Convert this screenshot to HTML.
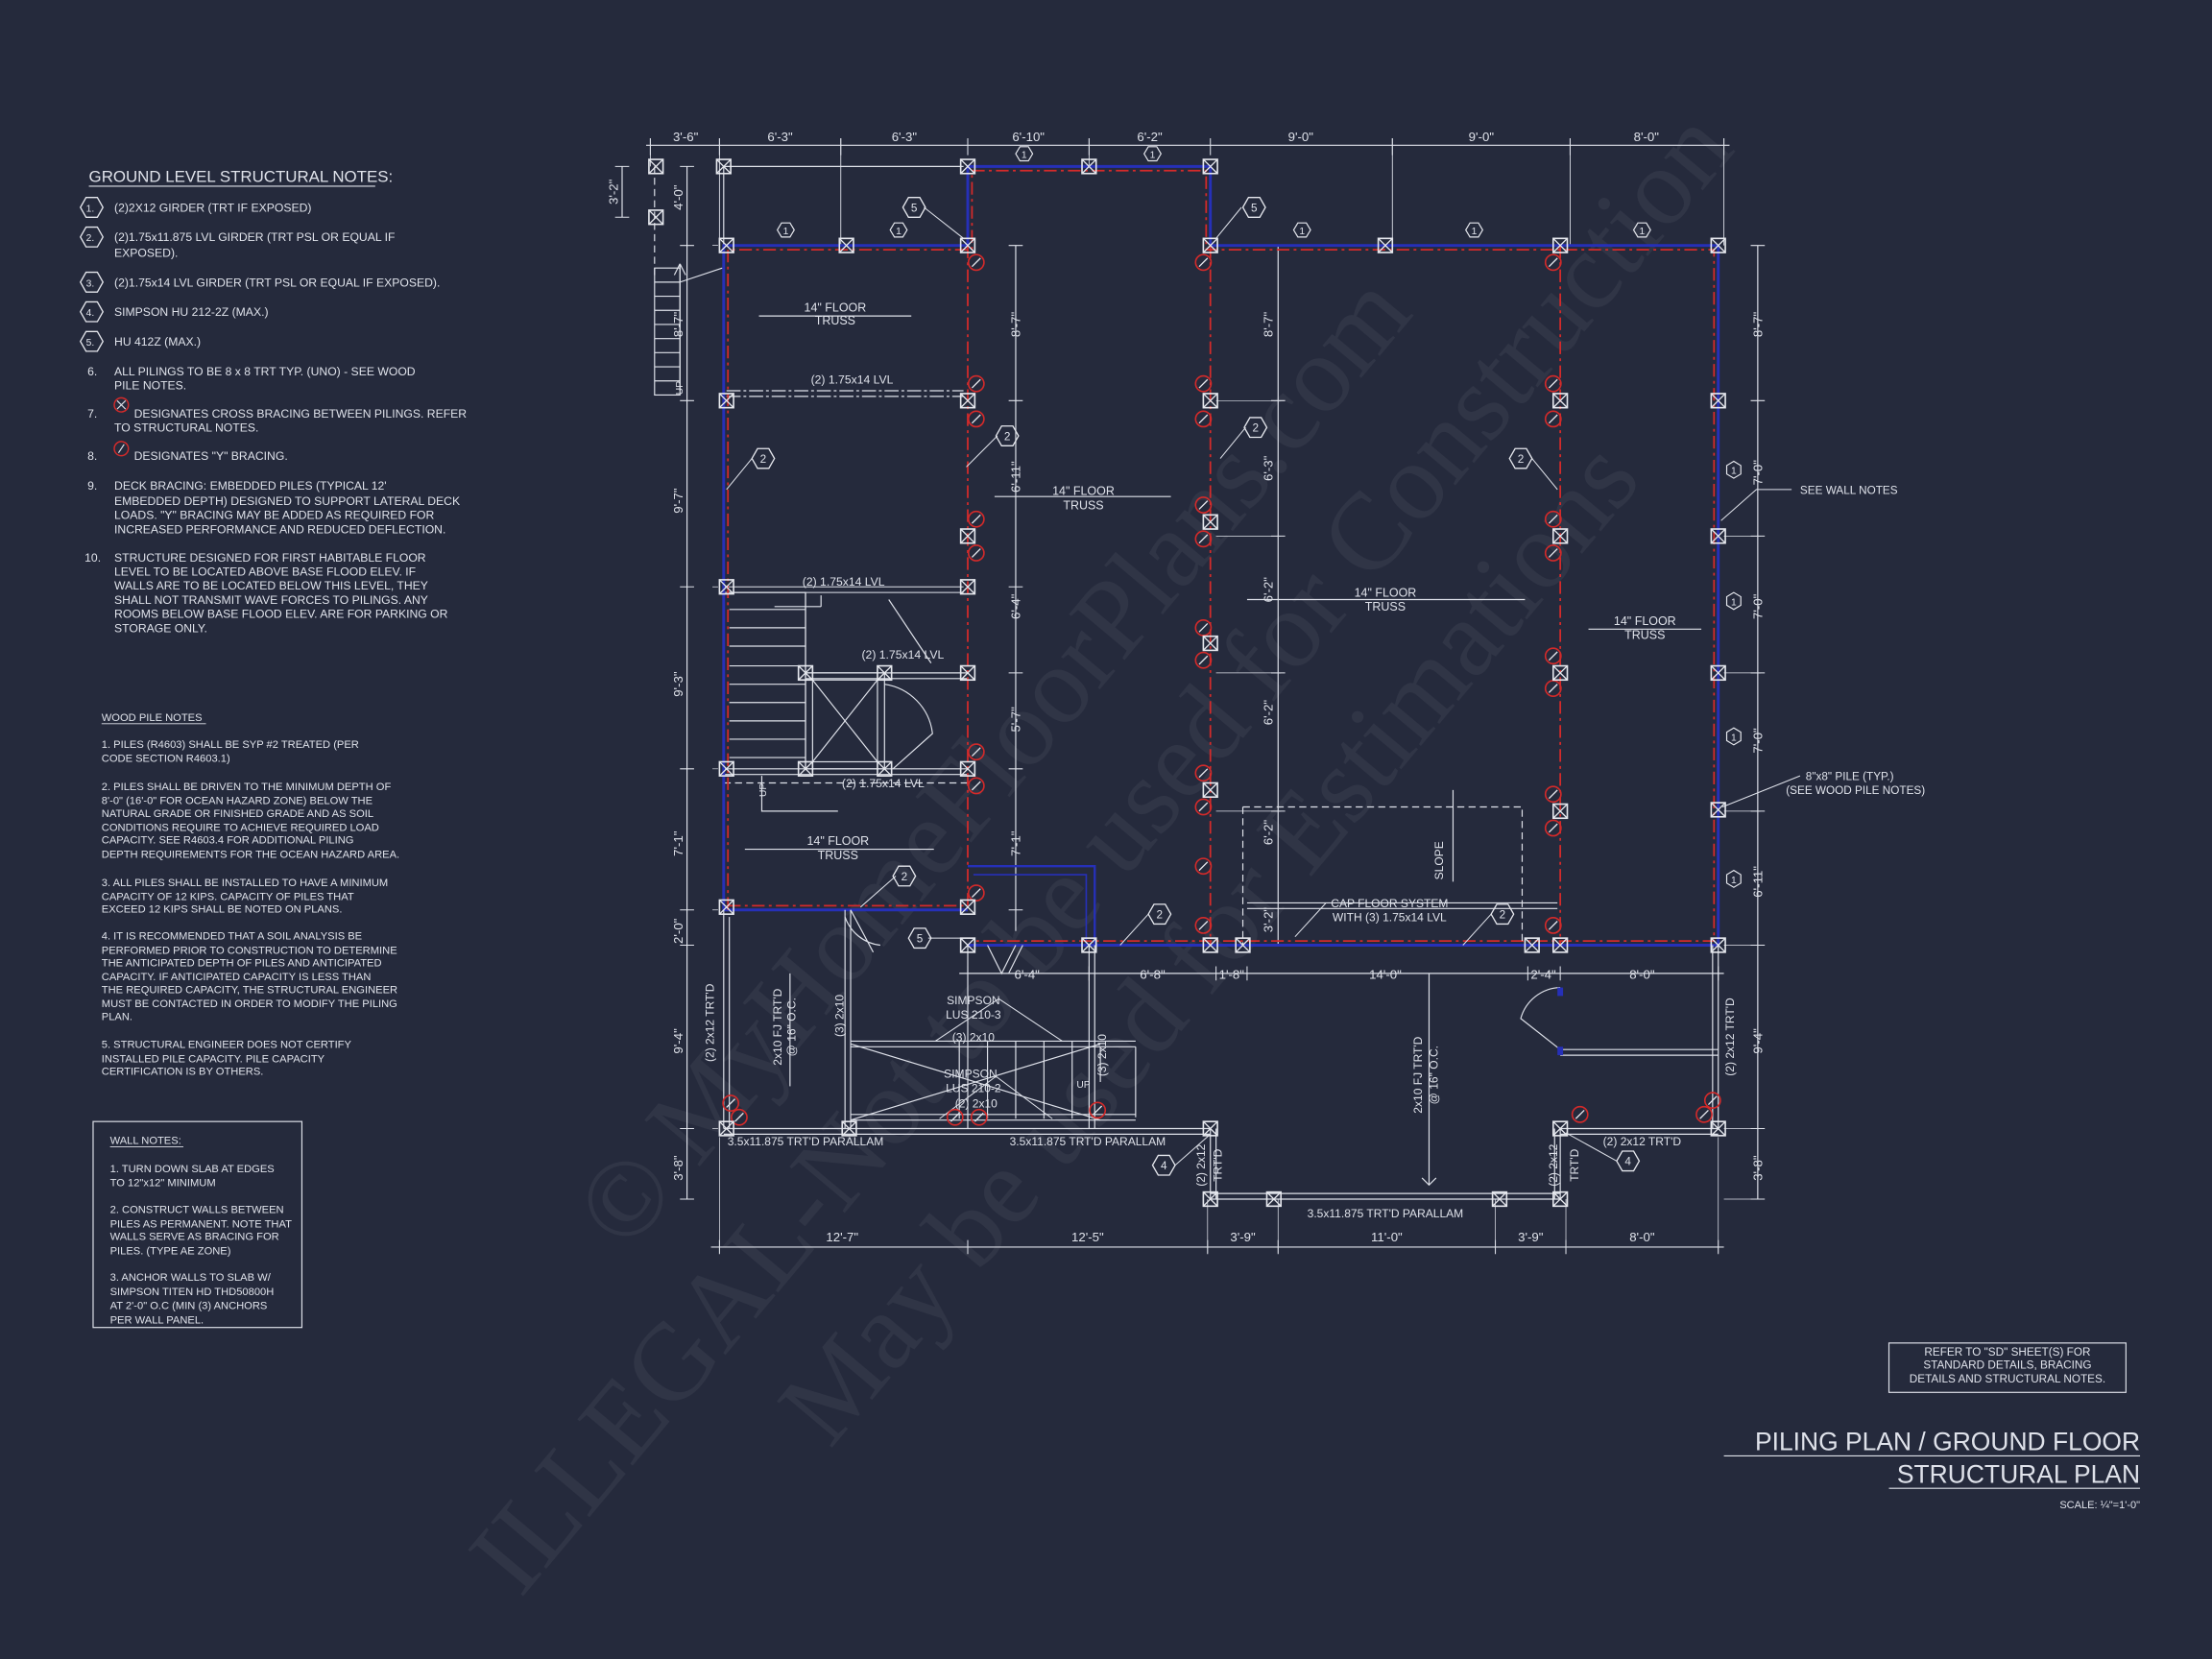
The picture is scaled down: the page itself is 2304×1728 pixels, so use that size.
<!DOCTYPE html>
<html><head><meta charset="utf-8"><style>
html,body{margin:0;padding:0;background:#252a3c;}
svg{display:block}
text{font-family:"Liberation Sans",sans-serif;fill:#dfe2ea;}
</style></head><body>
<svg width="2304" height="1728" viewBox="0 0 1568 1176" xmlns="http://www.w3.org/2000/svg">
<defs>
<g id="p"><rect x="-5" y="-5" width="10" height="10" fill="none" stroke="#e6e8ee" stroke-width="1.1"/><path d="M-5 -5L5 5M5 -5L-5 5" stroke="#e6e8ee" stroke-width="0.9"/></g>
<g id="y"><circle r="5.5" fill="none" stroke="#d42a2a" stroke-width="1.1"/><path d="M-3 3L3 -3" stroke="#e6e8ee" stroke-width="0.9"/></g>
<g id="h"><polygon points="-8,0 -4,-7 4,-7 8,0 4,7 -4,7" fill="none" stroke="#e6e8ee" stroke-width="0.9"/></g>
</defs>
<rect width="1568" height="1176" fill="#252a3c"/>

<!-- watermark -->
<g opacity="0.06" transform="rotate(-50 800 620)">
<text x="800" y="520" font-size="78" text-anchor="middle" style="font-family:'Liberation Serif',serif">© MyHomeFloorPlans.com</text>
<text x="800" y="620" font-size="78" text-anchor="middle" style="font-family:'Liberation Serif',serif">ILLEGAL-Not to be used for Construction</text>
<text x="800" y="720" font-size="78" text-anchor="middle" style="font-family:'Liberation Serif',serif">May be used for Estimations</text>
</g>

<!-- notes -->
<g font-size="8.3">
<text x="63" y="129" font-size="11.5">GROUND LEVEL STRUCTURAL NOTES:</text>
<line x1="63" y1="132" x2="266" y2="132" stroke="#dfe2ea" stroke-width="0.8"/>
<use href="#h" x="65" y="147"/><text x="61" y="150" font-size="7">1.</text><text x="81" y="150">(2)2X12 GIRDER (TRT IF EXPOSED)</text>
<use href="#h" x="65" y="168"/><text x="61" y="171" font-size="7">2.</text><text x="81" y="171">(2)1.75x11.875 LVL GIRDER (TRT PSL OR EQUAL IF</text><text x="81" y="182">EXPOSED).</text>
<use href="#h" x="65" y="200"/><text x="61" y="203" font-size="7">3.</text><text x="81" y="203">(2)1.75x14 LVL GIRDER (TRT PSL OR EQUAL IF EXPOSED).</text>
<use href="#h" x="65" y="221"/><text x="61" y="224" font-size="7">4.</text><text x="81" y="224">SIMPSON HU 212-2Z (MAX.)</text>
<use href="#h" x="65" y="242"/><text x="61" y="245" font-size="7">5.</text><text x="81" y="245">HU 412Z (MAX.)</text>
<text x="62" y="266">6.</text><text x="81" y="266">ALL PILINGS TO BE 8 x 8 TRT TYP. (UNO) - SEE WOOD</text><text x="81" y="276">PILE NOTES.</text>
<text x="62" y="296">7.</text><circle cx="86" cy="287" r="5" fill="none" stroke="#d42a2a"/><path d="M83 284l6 6M89 284l-6 6" stroke="#dfe2ea" stroke-width=".8"/><text x="95" y="296">DESIGNATES CROSS BRACING BETWEEN PILINGS. REFER</text><text x="81" y="306">TO STRUCTURAL NOTES.</text>
<text x="62" y="326">8.</text><circle cx="86" cy="318" r="5" fill="none" stroke="#d42a2a"/><path d="M84 321l4 -6" stroke="#dfe2ea" stroke-width=".8"/><text x="95" y="326">DESIGNATES "Y" BRACING.</text>
<text x="62" y="347">9.</text><text x="81" y="347">DECK BRACING: EMBEDDED PILES (TYPICAL 12'</text><text x="81" y="358">EMBEDDED DEPTH) DESIGNED TO SUPPORT LATERAL DECK</text><text x="81" y="368">LOADS. "Y" BRACING MAY BE ADDED AS REQUIRED FOR</text><text x="81" y="378">INCREASED PERFORMANCE AND REDUCED DEFLECTION.</text>
<text x="60" y="398">10.</text><text x="81" y="398">STRUCTURE DESIGNED FOR FIRST HABITABLE FLOOR</text><text x="81" y="408">LEVEL TO BE LOCATED ABOVE BASE FLOOD ELEV. IF</text><text x="81" y="418">WALLS ARE TO BE LOCATED BELOW THIS LEVEL, THEY</text><text x="81" y="428">SHALL NOT TRANSMIT WAVE FORCES TO  PILINGS.  ANY</text><text x="81" y="438">ROOMS BELOW BASE FLOOD ELEV. ARE FOR PARKING OR</text><text x="81" y="448">STORAGE ONLY.</text>
</g>
<g font-size="7.6">
<text x="72" y="511">WOOD PILE NOTES</text><line x1="72" y1="513" x2="146" y2="513" stroke="#dfe2ea" stroke-width=".6"/>
<text x="72" y="530">1. PILES (R4603) SHALL BE SYP #2 TREATED (PER</text><text x="72" y="540">CODE SECTION R4603.1)</text>
<text x="72" y="560">2. PILES SHALL BE DRIVEN TO THE MINIMUM DEPTH OF</text><text x="72" y="570">8'-0" (16'-0" FOR OCEAN HAZARD ZONE) BELOW THE</text><text x="72" y="579">NATURAL GRADE OR FINISHED GRADE AND AS SOIL</text><text x="72" y="589">CONDITIONS REQUIRE TO ACHIEVE REQUIRED LOAD</text><text x="72" y="598">CAPACITY. SEE R4603.4 FOR ADDITIONAL PILING</text><text x="72" y="608">DEPTH REQUIREMENTS FOR THE OCEAN HAZARD AREA.</text>
<text x="72" y="628">3. ALL PILES SHALL BE INSTALLED TO HAVE A MINIMUM</text><text x="72" y="638">CAPACITY OF 12 KIPS. CAPACITY OF PILES THAT</text><text x="72" y="647">EXCEED 12 KIPS SHALL BE NOTED ON PLANS.</text>
<text x="72" y="666">4. IT IS RECOMMENDED THAT A SOIL ANALYSIS BE</text><text x="72" y="676">PERFORMED PRIOR TO CONSTRUCTION TO DETERMINE</text><text x="72" y="685">THE ANTICIPATED DEPTH OF PILES AND ANTICIPATED</text><text x="72" y="695">CAPACITY. IF ANTICIPATED CAPACITY IS LESS THAN</text><text x="72" y="704">THE REQUIRED CAPACITY, THE STRUCTURAL ENGINEER</text><text x="72" y="714">MUST BE CONTACTED IN ORDER TO MODIFY THE PILING</text><text x="72" y="723">PLAN.</text>
<text x="72" y="743">5. STRUCTURAL ENGINEER DOES NOT CERTIFY</text><text x="72" y="753">INSTALLED PILE CAPACITY. PILE CAPACITY</text><text x="72" y="762">CERTIFICATION IS BY OTHERS.</text>
<rect x="66" y="795" width="148" height="146" fill="none" stroke="#dfe2ea" stroke-width=".8"/>
<text x="78" y="811">WALL NOTES:</text><line x1="78" y1="813" x2="130" y2="813" stroke="#dfe2ea" stroke-width=".6"/>
<text x="78" y="831">1. TURN DOWN SLAB AT EDGES</text><text x="78" y="841">TO 12"x12" MINIMUM</text>
<text x="78" y="860">2. CONSTRUCT WALLS BETWEEN</text><text x="78" y="870">PILES AS PERMANENT. NOTE THAT</text><text x="78" y="879">WALLS SERVE AS BRACING FOR</text><text x="78" y="889">PILES. (TYPE AE ZONE)</text>
<text x="78" y="908">3. ANCHOR WALLS TO SLAB W/</text><text x="78" y="918">SIMPSON TITEN HD THD50800H</text><text x="78" y="928">AT 2'-0" O.C (MIN (3) ANCHORS</text><text x="78" y="938">PER WALL PANEL.</text>
</g>

<!-- title block -->
<rect x="1339" y="952" width="168" height="35" fill="none" stroke="#dfe2ea" stroke-width=".8"/>
<g font-size="8" text-anchor="middle"><text x="1423" y="961">REFER TO "SD"  SHEET(S) FOR</text><text x="1423" y="970">STANDARD DETAILS, BRACING</text><text x="1423" y="980">DETAILS AND STRUCTURAL NOTES.</text></g>
<text x="1517" y="1028" font-size="18" text-anchor="end">PILING PLAN / GROUND FLOOR</text>
<line x1="1222" y1="1032" x2="1517" y2="1032" stroke="#dfe2ea" stroke-width=".8"/>
<text x="1517" y="1051" font-size="18" text-anchor="end">STRUCTURAL PLAN</text>
<line x1="1339" y1="1055" x2="1517" y2="1055" stroke="#dfe2ea" stroke-width=".8"/>
<text x="1517" y="1069" font-size="7.5" text-anchor="end">SCALE: ¼"=1'-0"</text>

<!-- dimension lines -->
<g stroke="#dfe2ea" stroke-width=".8" fill="none">
<line x1="458" y1="103" x2="1226" y2="103"/>
<line x1="504" y1="884" x2="1222" y2="884"/>
<line x1="680" y1="690" x2="1222" y2="690"/>
<line x1="487" y1="118" x2="487" y2="850"/>
<line x1="720" y1="174" x2="720" y2="660"/>
<line x1="906" y1="174" x2="906" y2="670"/>
<line x1="1246" y1="174" x2="1246" y2="850"/>
<line x1="441" y1="118" x2="441" y2="154"/>
<g stroke-width=".7">
<path d="M461 98v12M510 98v12M596 98v12M686 98v12M772 98v12M858 98v12M987 98v12M1113 98v12M1222 98v12"/>
<path d="M510 879v10M686 879v10M856 879v10M906 879v10M1060 879v10M1110 879v10M1218 879v10"/>
<path d="M686 685v10M772 685v10M862 685v10M884 685v10M1083 685v10M1106 685v10M1218 685v10"/>
<path d="M482 118h10M482 174h10M482 284h10M482 416h10M482 545h10M482 645h10M482 670h10M482 800h10M482 850h10"/>
<path d="M715 174h10M715 284h10M715 416h10M715 477h10M715 545h10M715 645h10"/>
<path d="M901 174h10M901 284h10M901 380h10M901 477h10M901 575h10M901 670h10"/>
<path d="M1241 174h10M1241 284h10M1241 380h10M1241 477h10M1241 575h10M1241 670h10M1241 800h10M1241 850h10"/>
<path d="M436 118h10M436 154h10"/>
</g>
<path d="M461 98v20M510 98v76M596 98v76M772 98v20M987 98v76M1113 98v76M1222 98v76" stroke-width=".6"/>
<path d="M505 174h4M505 416h4M505 545h4M505 645h4M505 800h4M1222 380h26M1222 477h26M1222 575h26M1222 670h26M1222 800h26M1222 850h26M862 284h46M862 380h46M862 477h46M862 575h46M862 670h46" stroke-width=".5"/>
<path d="M510 806v82M856 850v38M906 850v38M1060 850v38M1110 850v38M1218 806v82" stroke-width=".5"/>
</g>
<g font-size="9" text-anchor="middle">
<text x="486" y="100">3'-6"</text><text x="553" y="100">6'-3"</text><text x="641" y="100">6'-3"</text><text x="729" y="100">6'-10"</text><text x="815" y="100">6'-2"</text><text x="922" y="100">9'-0"</text><text x="1050" y="100">9'-0"</text><text x="1167" y="100">8'-0"</text>
<text x="597" y="880">12'-7"</text><text x="771" y="880">12'-5"</text><text x="881" y="880">3'-9"</text><text x="983" y="880">11'-0"</text><text x="1085" y="880">3'-9"</text><text x="1164" y="880">8'-0"</text>
<text x="728" y="694">6'-4"</text><text x="817" y="694">6'-8"</text><text x="873" y="694">1'-8"</text><text x="982" y="694">14'-0"</text><text x="1094" y="694">2'-4"</text><text x="1164" y="694">8'-0"</text>
</g>
<g font-size="9" text-anchor="middle">
<text transform="translate(484 230) rotate(-90)">8'-7"</text>
<text transform="translate(484 355) rotate(-90)">9'-7"</text>
<text transform="translate(484 485) rotate(-90)">9'-3"</text>
<text transform="translate(484 598) rotate(-90)">7'-1"</text>
<text transform="translate(484 660) rotate(-90)">2'-0"</text>
<text transform="translate(484 738) rotate(-90)">9'-4"</text>
<text transform="translate(484 828) rotate(-90)">3'-8"</text>
<text transform="translate(438 136) rotate(-90)">3'-2"</text>
<text transform="translate(484 140) rotate(-90)">4'-0"</text>
<text transform="translate(723 230) rotate(-90)">8'-7"</text>
<text transform="translate(723 338) rotate(-90)">6'-11"</text>
<text transform="translate(723 430) rotate(-90)">6'-4"</text>
<text transform="translate(723 510) rotate(-90)">5'-7"</text>
<text transform="translate(723 598) rotate(-90)">7'-1"</text>
<text transform="translate(902 230) rotate(-90)">8'-7"</text>
<text transform="translate(902 332) rotate(-90)">6'-3"</text>
<text transform="translate(902 418) rotate(-90)">6'-2"</text>
<text transform="translate(902 505) rotate(-90)">6'-2"</text>
<text transform="translate(902 590) rotate(-90)">6'-2"</text>
<text transform="translate(902 652) rotate(-90)">3'-2"</text>
<text transform="translate(1249 230) rotate(-90)">8'-7"</text>
<text transform="translate(1249 335) rotate(-90)">7'-0"</text>
<text transform="translate(1249 430) rotate(-90)">7'-0"</text>
<text transform="translate(1249 525) rotate(-90)">7'-0"</text>
<text transform="translate(1249 625) rotate(-90)">6'-11"</text>
<text transform="translate(1249 738) rotate(-90)">9'-4"</text>
<text transform="translate(1249 828) rotate(-90)">3'-8"</text>
</g>

<!-- stairs left -->
<g stroke="#dfe2ea" stroke-width=".8" fill="none">
<rect x="464" y="190" width="18" height="90"/>
<path d="M464 200h18M464 210h18M464 220h18M464 230h18M464 240h18M464 250h18M464 260h18M464 270h18"/>
<path d="M464 118v80" stroke-dasharray="5 3"/>
<path d="M482 187l-4 8M482 187l4 8M482 187v90"/>
<path d="M482 200l30 -10"/>
<path d="M513 118h170M513 118v56" />
<path d="M517 420h54v125M517 432h54M517 445h54M517 458h54M517 472h54M517 485h54M517 498h54M517 511h54M517 524h54M517 537h54"/>
<path d="M549 430h33M582 430v-8M540 550v25h54M571 420v60"/>
<rect x="571" y="477" width="56" height="68"/><rect x="576" y="482" width="46" height="58"/>
<path d="M576 482l46 58M622 482l-46 58"/>
<path d="M627 485a40 40 0 0 1 34 35l-28 25"/>
<path d="M630 425l30 45"/>
<path d="M513 420h170M513 416h170" stroke-width=".7"/>
<path d="M571 477h115M571 481h115M513 545h173M513 549h173"/>
<path d="M513 555h173" stroke-dasharray="5 3"/>
<path d="M515 277h168M515 281h168" stroke-dasharray="10 2 2 2"/>
</g>
<g font-size="8.3" text-anchor="middle">
<text x="604" y="272">(2) 1.75x14 LVL</text>
<text x="598" y="415">(2) 1.75x14 LVL</text>
<text x="640" y="467">(2) 1.75x14 LVL</text>
<text x="626" y="558">(2) 1.75x14 LVL</text>
<text transform="translate(484 275) rotate(-90)" font-size="7">UP</text>
<text transform="translate(543 560) rotate(-90)" font-size="7">UP</text>
</g>

<g font-size="8.5" text-anchor="middle">
<text x="592" y="221">14" FLOOR</text><text x="592" y="230">TRUSS</text>
<text x="768" y="351">14" FLOOR</text><text x="768" y="361">TRUSS</text>
<text x="982" y="423">14" FLOOR</text><text x="982" y="433">TRUSS</text>
<text x="1166" y="443">14" FLOOR</text><text x="1166" y="453">TRUSS</text>
<text x="594" y="599">14" FLOOR</text><text x="594" y="609">TRUSS</text>
</g>
<g stroke="#dfe2ea" stroke-width=".8"><path d="M538 224h108M705 352h125M884 425h197M1126 446h80M528 602h134"/></g>

<!-- walls blue + red -->
<g fill="none">
<path d="M513 645V174H686V118H858V174H1218V670H686" stroke="#2630b8" stroke-width="2"/>
<path d="M513 645H686" stroke="#2630b8" stroke-width="2"/>
<path d="M686 614h90v56" stroke="#2630b8" stroke-width="1.6"/>
<path d="M690 620h80v50" stroke="#2630b8" stroke-width="1.1"/>
<g stroke="#d42a2a" stroke-width="1.2" stroke-dasharray="9 3 2 3">
<path d="M516 645V177H689V121H855V177H1215V667H689"/>
<path d="M516 642H683"/>
<path d="M686 174V645M858 174V670M1106 174V670"/>
</g>
</g>

<!-- bottom porch -->
<g stroke="#dfe2ea" stroke-width=".8" fill="none">
<path d="M513 645v155M517 650v150M1218 670v130M1214 670v130"/>
<path d="M513 800h345M513 804h345M1106 800h112M1106 804h112M858 850h248M858 846h248"/>
<path d="M858 800v50M862 800v50M1106 800v50M1102 800v50"/>
<path d="M599 645v155M603 645v155M686 670v130M772 670v130M776 670v130"/>
<path d="M603 738h202M603 742h202M603 790h202M603 794h202M680 738v55M700 738v55M720 738v55M740 738v55M760 738v55M780 742v25M805 742v50"/>
<path d="M603 740l177 54M603 794l177 -54"/>
<path d="M603 645l16 30M599 650a30 30 0 0 0 25 20"/>
<path d="M700 670l10 20l10 -20M715 690l10 -20"/>
<path d="M1106 700a30 30 0 0 0 -28 22l28 22M1106 744h112M1106 748h112"/>
<path d="M881 572h198v98M881 572v98" stroke-dasharray="5 3"/>
<path d="M884 640h220M884 644h220"/>
<path d="M1013 690v150M1008 835l5 5l5 -5"/>
<path d="M1030 560v65"/>
<path d="M560 690v80"/>
</g>
<rect x="1104" y="700" width="4" height="6" fill="#2630b8"/><rect x="1104" y="742" width="4" height="6" fill="#2630b8"/>
<g font-size="8.2" text-anchor="middle">
<text x="571" y="812">3.5x11.875 TRT'D PARALLAM</text>
<text x="771" y="812">3.5x11.875 TRT'D PARALLAM</text>
<text x="982" y="863">3.5x11.875 TRT'D PARALLAM</text>
<text x="1164" y="812">(2) 2x12 TRT'D</text>
<text x="690" y="712">SIMPSON</text><text x="690" y="722">LUS 210-3</text>
<text x="690" y="738">(3) 2x10</text>
<text x="688" y="764">SIMPSON</text><text x="690" y="774">LUS 210-2</text>
<text x="692" y="785">(2) 2x10</text>
<text x="985" y="643">CAP FLOOR SYSTEM</text><text x="985" y="653">WITH (3) 1.75x14 LVL</text>
<text x="768" y="771" font-size="7">UP</text>
<text transform="translate(506 725) rotate(-90)">(2) 2x12 TRT'D</text>
<text transform="translate(554 728) rotate(-90)">2x10 FJ TRT'D</text>
<text transform="translate(564 728) rotate(-90)">@ 16" O.C.</text>
<text transform="translate(598 720) rotate(-90)">(3) 2x10</text>
<text transform="translate(784 748) rotate(-90)">(3) 2x10</text>
<text transform="translate(1008 762) rotate(-90)">2x10 FJ TRT'D</text>
<text transform="translate(1019 762) rotate(-90)">@ 16" O.C.</text>
<text transform="translate(1229 735) rotate(-90)">(2) 2x12 TRT'D</text>
<text transform="translate(854 826) rotate(-90)">(2) 2x12</text>
<text transform="translate(866 826) rotate(-90)">TRT'D</text>
<text transform="translate(1104 826) rotate(-90)">(2) 2x12</text>
<text transform="translate(1119 826) rotate(-90)">TRT'D</text>
<text transform="translate(1023 610) rotate(-90)">SLOPE</text>
</g>
<g font-size="8"><text x="1276" y="350">SEE WALL NOTES</text><text x="1280" y="553">8"x8" PILE (TYP.)</text><text x="1266" y="563">(SEE WOOD PILE NOTES)</text></g>

<g stroke="#dfe2ea" stroke-width=".7" fill="none">
<path d="M655 147l28 22M880 147l-18 22M533 325l-18 22M707 309l-22 22M883 303l-18 22M1086 325l18 22M1270 347h-25l-25 22M1276 550l-55 22M635 621l-25 22M658 665h24M814 648l-20 22M1057 648l-20 22M940 640l-22 24M833 826l25 -22M1146 823l-36 -20M708 708l-45 30M708 708l45 30M706 763l-40 30M706 763l40 30"/>
</g>
<g font-size="8" text-anchor="middle">
<use href="#h" x="648" y="147"/><text x="648" y="150">5</text>
<use href="#h" x="889" y="147"/><text x="889" y="150">5</text>
<use href="#h" x="541" y="325"/><text x="541" y="328">2</text>
<use href="#h" x="714" y="309"/><text x="714" y="312">2</text>
<use href="#h" x="890" y="303"/><text x="890" y="306">2</text>
<use href="#h" x="1078" y="325"/><text x="1078" y="328">2</text>
<use href="#h" x="641" y="621"/><text x="641" y="624">2</text>
<use href="#h" x="652" y="665"/><text x="652" y="668">5</text>
<use href="#h" x="822" y="648"/><text x="822" y="651">2</text>
<use href="#h" x="1065" y="648"/><text x="1065" y="651">2</text>
<use href="#h" x="825" y="826"/><text x="825" y="829">4</text>
<use href="#h" x="1154" y="823"/><text x="1154" y="826">4</text>
</g>
<g font-size="7" text-anchor="middle">
<g fill="none" stroke="#e6e8ee" stroke-width=".8">
<polygon points="720,109 723,104 729,104 732,109 729,114 723,114"/>
<polygon points="811,109 814,104 820,104 823,109 820,114 814,114"/>
<polygon points="551,163 554,158 560,158 563,163 560,168 554,168"/>
<polygon points="631,163 634,158 640,158 643,163 640,168 634,168"/>
<polygon points="917,163 920,158 926,158 929,163 926,168 920,168"/>
<polygon points="1039,163 1042,158 1048,158 1051,163 1048,168 1042,168"/>
<polygon points="1158,163 1161,158 1167,158 1170,163 1167,168 1161,168"/>
<polygon points="1229,327 1224,330 1224,336 1229,339 1234,336 1234,330"/>
<polygon points="1229,420 1224,423 1224,429 1229,432 1234,429 1234,423"/>
<polygon points="1229,516 1224,519 1224,525 1229,528 1234,525 1234,519"/>
<polygon points="1229,617 1224,620 1224,626 1229,629 1234,626 1234,620"/>
</g>
<text x="726" y="112">1</text><text x="817" y="112">1</text><text x="557" y="166">1</text><text x="637" y="166">1</text><text x="923" y="166">1</text><text x="1045" y="166">1</text><text x="1164" y="166">1</text>
<text x="1229" y="336">1</text><text x="1229" y="429">1</text><text x="1229" y="525">1</text><text x="1229" y="626">1</text>
</g>

<g>
<use href="#y" x="692" y="186"/><use href="#y" x="853" y="186"/><use href="#y" x="1101" y="186"/>
<use href="#y" x="692" y="272"/><use href="#y" x="692" y="297"/>
<use href="#y" x="1101" y="272"/><use href="#y" x="1101" y="297"/>
<use href="#y" x="853" y="272"/><use href="#y" x="853" y="297"/>
<use href="#y" x="692" y="368"/><use href="#y" x="692" y="392"/>
<use href="#y" x="853" y="358"/><use href="#y" x="853" y="382"/>
<use href="#y" x="1101" y="368"/><use href="#y" x="1101" y="392"/>
<use href="#y" x="853" y="445"/><use href="#y" x="853" y="468"/>
<use href="#y" x="1101" y="465"/><use href="#y" x="1101" y="488"/>
<use href="#y" x="692" y="533"/><use href="#y" x="692" y="557"/>
<use href="#y" x="853" y="548"/><use href="#y" x="853" y="572"/>
<use href="#y" x="1101" y="563"/><use href="#y" x="1101" y="587"/>
<use href="#y" x="692" y="633"/><use href="#y" x="853" y="614"/><use href="#y" x="853" y="656"/>
<use href="#y" x="1101" y="656"/>
<use href="#y" x="518" y="782"/><use href="#y" x="524" y="792"/>
<use href="#y" x="677" y="792"/><use href="#y" x="694" y="792"/><use href="#y" x="778" y="787"/>
<use href="#y" x="1120" y="790"/><use href="#y" x="1208" y="790"/><use href="#y" x="1214" y="780"/>
</g>

<g>
<use href="#p" x="465" y="118"/><use href="#p" x="465" y="154"/>
<use href="#p" x="513" y="118"/><use href="#p" x="686" y="118"/><use href="#p" x="772" y="118"/><use href="#p" x="858" y="118"/>
<use href="#p" x="515" y="174"/><use href="#p" x="600" y="174"/><use href="#p" x="686" y="174"/><use href="#p" x="858" y="174"/><use href="#p" x="982" y="174"/><use href="#p" x="1106" y="174"/><use href="#p" x="1218" y="174"/>
<use href="#p" x="515" y="284"/><use href="#p" x="686" y="284"/><use href="#p" x="858" y="284"/><use href="#p" x="1106" y="284"/><use href="#p" x="1218" y="284"/>
<use href="#p" x="686" y="380"/><use href="#p" x="858" y="370"/><use href="#p" x="1106" y="380"/><use href="#p" x="1218" y="380"/>
<use href="#p" x="515" y="416"/><use href="#p" x="686" y="416"/>
<use href="#p" x="571" y="477"/><use href="#p" x="627" y="477"/><use href="#p" x="686" y="477"/>
<use href="#p" x="858" y="456"/><use href="#p" x="1106" y="477"/><use href="#p" x="1218" y="477"/>
<use href="#p" x="515" y="545"/><use href="#p" x="571" y="545"/><use href="#p" x="627" y="545"/><use href="#p" x="686" y="545"/>
<use href="#p" x="858" y="560"/><use href="#p" x="1106" y="575"/><use href="#p" x="1218" y="574"/>
<use href="#p" x="515" y="643"/><use href="#p" x="686" y="643"/>
<use href="#p" x="686" y="670"/><use href="#p" x="772" y="670"/><use href="#p" x="858" y="670"/><use href="#p" x="881" y="670"/><use href="#p" x="1086" y="670"/><use href="#p" x="1106" y="670"/><use href="#p" x="1218" y="670"/>
<use href="#p" x="515" y="800"/><use href="#p" x="602" y="800"/><use href="#p" x="858" y="800"/><use href="#p" x="1106" y="800"/><use href="#p" x="1218" y="800"/>
<use href="#p" x="858" y="850"/><use href="#p" x="903" y="850"/><use href="#p" x="1063" y="850"/><use href="#p" x="1106" y="850"/>
</g>
</svg>
</body></html>
